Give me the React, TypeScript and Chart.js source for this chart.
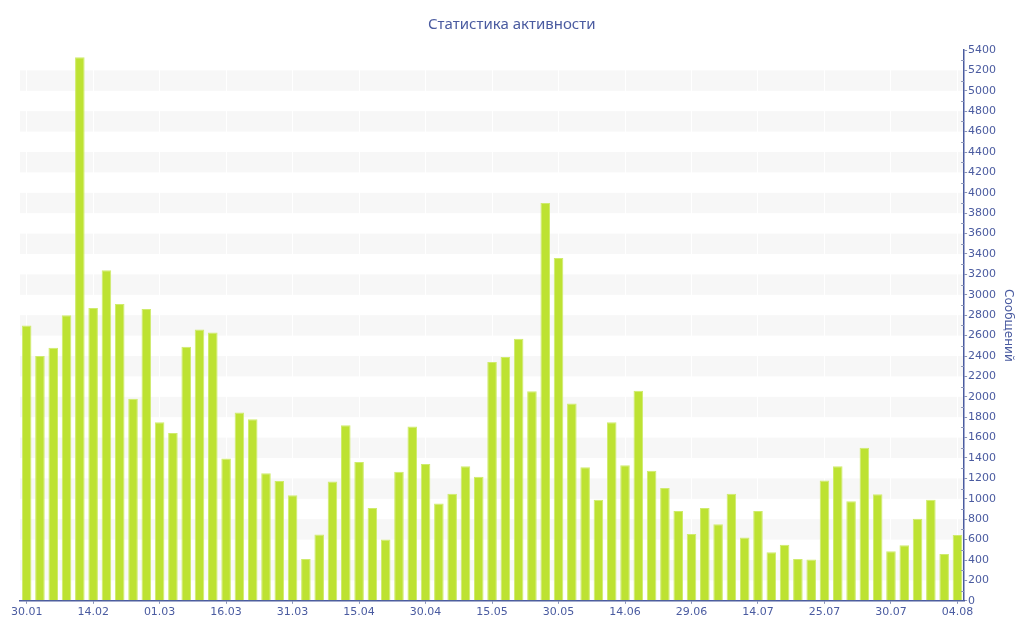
import React, { useEffect, useRef } from "react";
import { Chart, registerables } from "chart.js";

Chart.register(...registerables);

const tickLabels = [
  "30.01", "14.02", "01.03", "16.03", "31.03", "15.04", "30.04", "15.05",
  "30.05", "14.06", "29.06", "14.07", "25.07", "30.07", "04.08",
];

const messages = [
  2700, 2400, 2480, 2800, 5330, 2870, 3240, 2910, 1980, 2860,
  1750, 1645, 2490, 2660, 2630, 1395, 1845, 1780, 1250, 1175,
  1035, 410, 650, 1170, 1720, 1360, 910, 600, 1265, 1710,
  1340, 955, 1050, 1320, 1215, 2340, 2390, 2570, 2055, 3900,
  3360, 1935, 1310, 990, 1750, 1330, 2060, 1275, 1105, 880,
  655, 910, 750, 1050, 620, 880, 475, 550, 410, 405,
  1180, 1320, 975, 1500, 1045, 485, 545, 805, 990, 460,
  645,
];

const LABEL_EVERY = 5;
const categories = messages.map((_, i) =>
  i % LABEL_EVERY === 0 ? tickLabels[i / LABEL_EVERY] ?? "" : ""
);

const TITLE = "Статистика активности";
const Y_TITLE = "Сообщений";
const Y_MAX = 5400;
const Y_STEP = 200;

const BLUE = "#4a5ba0";
const BAR = "#bde232";
const BAND = "#f7f7f7";

const bandsPlugin = {
  id: "bands",
  beforeDraw(chart: any) {
    const { ctx, chartArea } = chart;
    const y = chart.scales.y;
    ctx.save();
    ctx.fillStyle = BAND;
    for (let v = Y_STEP; v < Y_MAX; v += 2 * Y_STEP) {
      const top = y.getPixelForValue(v + Y_STEP);
      const bottom = y.getPixelForValue(v);
      ctx.fillRect(chartArea.left, top, chartArea.right - chartArea.left, bottom - top);
    }
    ctx.restore();
  },
  afterDraw(chart: any) {
    const { ctx } = chart;
    const y = chart.scales.y;
    ctx.save();
    ctx.strokeStyle = "#8a94b8";
    ctx.lineWidth = 1;
    for (let v = Y_STEP / 2; v < Y_MAX; v += Y_STEP) {
      const py = Math.round(y.getPixelForValue(v)) + 0.5;
      ctx.beginPath();
      ctx.moveTo(y.left - 3, py);
      ctx.lineTo(y.left, py);
      ctx.stroke();
    }
    ctx.restore();
  },
};

export default function App() {
  const ref = useRef<HTMLCanvasElement | null>(null);

  useEffect(() => {
    if (!ref.current) return;
    const chart = new Chart(ref.current, {
      type: "bar",
      data: {
        labels: categories,
        datasets: [
          {
            label: Y_TITLE,
            data: messages,
            xAxisID: "x",
            yAxisID: "y",
            backgroundColor: BAR,
            borderColor: "#cfeb6c",
            borderWidth: 1,
            barPercentage: 1,
            categoryPercentage: 0.72,
          },
        ],
      },
      options: {
        responsive: false,
        animation: false,
        devicePixelRatio: 1,
        layout: { padding: { left: 4, right: 4.5, top: 0, bottom: 19 } },
        plugins: {
          legend: { display: false },
          tooltip: { enabled: false },
          title: {
            display: true,
            text: TITLE,
            color: BLUE,
            font: { family: "'Noto Sans', sans-serif", size: 15, weight: "normal" },
            padding: { top: 16, bottom: 16 },
          },
        },
        scales: {
          x: {
            offset: true,
            grid: {
              offset: false,
              display: true,
              drawOnChartArea: true,
              color: (c: any) => (c.index % LABEL_EVERY === 0 ? "#ffffff" : "rgba(0,0,0,0)"),
              tickColor: (c: any) => (c.index % LABEL_EVERY === 0 ? "#8a94b8" : "rgba(0,0,0,0)"),
              tickLength: 3,
            },
            border: { display: true, color: BLUE, width: 1.5 },
            ticks: {
              autoSkip: false,
              maxRotation: 0,
              minRotation: 0,
              padding: 2,
              color: BLUE,
              font: { family: "'DejaVu Sans', sans-serif", size: 11 },
              callback: (_v: any, i: number) => categories[i],
            },
          },
          y: {
            position: "right",
            min: 0,
            max: Y_MAX,
            grid: {
              drawOnChartArea: false,
              tickLength: 3,
              color: "#8a94b8",
            },
            border: { display: true, color: BLUE, width: 1.5 },
            ticks: {
              stepSize: Y_STEP,
              autoSkip: false,
              padding: 1,
              color: BLUE,
              font: { family: "'DejaVu Sans', sans-serif", size: 11 },
              callback: (v: any) => String(v),
            },
            title: {
              display: true,
              text: Y_TITLE,
              color: BLUE,
              font: { family: "'DejaVu Sans', sans-serif", size: 12 },
              padding: { top: 4, bottom: 4 },
            },
          },
          spacer: {
            type: "linear",
            axis: "y",
            position: "left",
            display: true,
            min: 0,
            max: 1,
            grid: { display: false },
            border: { display: false },
            ticks: { display: false },
            afterFit: (s: any) => {
              s.width = 16;
            },
          },
        },
      },
      plugins: [bandsPlugin],
    });
    return () => chart.destroy();
  }, []);

  return (
    <div style={{ position: "absolute", left: 0, top: 0, width: 1024, height: 640, background: "#fff" }}>
      <canvas ref={ref} width={1024} height={640} />
    </div>
  );
}
